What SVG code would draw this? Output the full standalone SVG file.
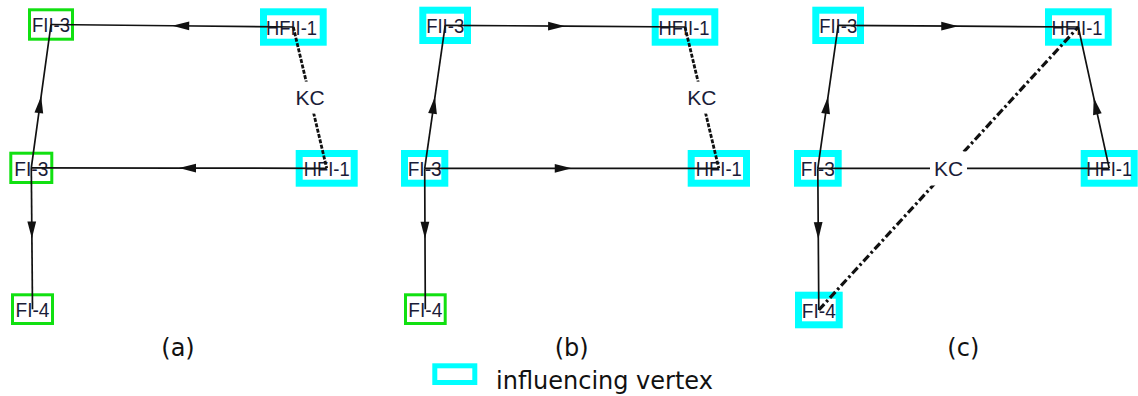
<svg xmlns="http://www.w3.org/2000/svg" width="1138" height="396" viewBox="0 0 1138 396">
  <style>
    .lbl { font-family: "Liberation Sans", Arial, sans-serif; font-size: 21px; fill: #1a1c38; text-anchor: middle; }
    .kc { font-family: "Liberation Sans", Arial, sans-serif; font-size: 21px; fill: #1a1c38; text-anchor: middle; }
    .cap { font-family: "DejaVu Sans", Verdana, sans-serif; font-size: 24px; fill: #111; }
    .inf { fill: #fff; stroke: #00ffff; stroke-width: 7; }
    .plain { fill: #fff; stroke: #11e011; stroke-width: 3; }
    .edge { fill: none; stroke: #111; stroke-width: 1.7; }
    .arrow { marker-mid: url(#arr); }
    .dash { fill: none; stroke: #111; stroke-width: 2.8; stroke-dasharray: 4 1.5; }
    .dashdot { fill: none; stroke: #111; stroke-width: 3.2; stroke-dasharray: 8 3 2.5 3; }
    .kcbg { fill: #fff; }
  </style>
  <defs>
    <marker id="arr" markerUnits="userSpaceOnUse" viewBox="0 0 18 10" markerWidth="18" markerHeight="10" refX="17" refY="5" orient="auto" overflow="visible">
      <path d="M0,0.6 L17,5 L0,9.4 Z" fill="#111"/>
    </marker>
  </defs>

  <rect width="1138" height="396" fill="#fff"/>

  <!-- panel (a) vertices -->
  <g id="a-FII-3"><rect class="plain" x="29.5" y="9.8" width="43" height="29.4"/><text class="lbl" x="51" y="32" textLength="38" lengthAdjust="spacingAndGlyphs">FII-3</text></g>
  <g id="a-HFII-1"><rect class="inf" x="263.5" y="11.8" width="59.7" height="30.4"/><text class="lbl" x="291.5" y="34.5" textLength="51" lengthAdjust="spacingAndGlyphs">HFII-1</text></g>
  <g id="a-FI-3"><rect class="plain" x="10.8" y="153.2" width="41" height="29.3"/><text class="lbl" x="31.3" y="175.6" textLength="34" lengthAdjust="spacingAndGlyphs">FI-3</text></g>
  <g id="a-HFI-1"><rect class="inf" x="299.2" y="153.5" width="55" height="29.7"/><text class="lbl" x="326.7" y="175.9" textLength="46" lengthAdjust="spacingAndGlyphs">HFI-1</text></g>
  <g id="a-FI-4"><rect class="plain" x="12.5" y="294.8" width="40" height="28.7"/><text class="lbl" x="32.5" y="316.6" textLength="34" lengthAdjust="spacingAndGlyphs">FI-4</text></g>

  <!-- panel (b) vertices -->
  <g id="b-FII-3"><rect class="inf" x="422.8" y="10.2" width="44.7" height="30.3"/><text class="lbl" x="445.2" y="32.9" textLength="38" lengthAdjust="spacingAndGlyphs">FII-3</text></g>
  <g id="b-HFII-1"><rect class="inf" x="655.2" y="11.8" width="59.6" height="30.4"/><text class="lbl" x="684" y="34.5" textLength="51" lengthAdjust="spacingAndGlyphs">HFII-1</text></g>
  <g id="b-FI-3"><rect class="inf" x="404.5" y="153.5" width="40.3" height="29.7"/><text class="lbl" x="424.7" y="175.9" textLength="34" lengthAdjust="spacingAndGlyphs">FI-3</text></g>
  <g id="b-HFI-1"><rect class="inf" x="691.2" y="153.5" width="55.3" height="29.7"/><text class="lbl" x="718.8" y="175.9" textLength="46" lengthAdjust="spacingAndGlyphs">HFI-1</text></g>
  <g id="b-FI-4"><rect class="plain" x="405.5" y="294.8" width="39.7" height="28.7"/><text class="lbl" x="425.3" y="316.6" textLength="34" lengthAdjust="spacingAndGlyphs">FI-4</text></g>

  <!-- panel (c) vertices -->
  <g id="c-FII-3"><rect class="inf" x="815.8" y="10.2" width="44.7" height="30.3"/><text class="lbl" x="838.2" y="32.9" textLength="38" lengthAdjust="spacingAndGlyphs">FII-3</text></g>
  <g id="c-HFII-1"><rect class="inf" x="1048.5" y="11.8" width="59.7" height="30.4"/><text class="lbl" x="1077" y="34.5" textLength="51" lengthAdjust="spacingAndGlyphs">HFII-1</text></g>
  <g id="c-FI-3"><rect class="inf" x="797.5" y="153.5" width="40.7" height="29.7"/><text class="lbl" x="817.8" y="175.9" textLength="34" lengthAdjust="spacingAndGlyphs">FI-3</text></g>
  <g id="c-HFI-1"><rect class="inf" x="1084.2" y="153.5" width="50" height="29.7"/><text class="lbl" x="1109.2" y="175.9" textLength="46" lengthAdjust="spacingAndGlyphs">HFI-1</text></g>
  <g id="c-FI-4"><rect class="inf" x="798.5" y="295.2" width="40.7" height="29.6"/><text class="lbl" x="818.8" y="317.6" textLength="34" lengthAdjust="spacingAndGlyphs">FI-4</text></g>

  <!-- connectors: arrowheads sit at each edge's midpoint -->
  <g id="connectors">
    <!-- (a) -->
    <path class="edge arrow" d="M293.3,27 L172.2,25.75 L51,24.5"/>
    <path class="edge arrow" d="M326.7,168.3 L179,168.05 L31.3,167.8"/>
    <path class="edge arrow" d="M31.3,167.8 L41.15,96.15 L51,24.5"/>
    <path class="edge arrow" d="M31.3,167.8 L31.9,238.5 L32.5,309.2"/>
    <path class="dash" d="M293.3,27 L326.7,168.3"/>
    <rect class="kcbg" x="291.5" y="81.6" width="37" height="32"/>
    <text class="kc" x="310" y="105.3">KC</text>

    <!-- (b) -->
    <path class="edge arrow" d="M445.2,25.3 L565.1,26.15 L685,27"/>
    <path class="edge arrow" d="M424.7,168.3 L571.75,168.3 L718.8,168.3"/>
    <path class="edge arrow" d="M424.7,168.3 L434.95,96.8 L445.2,25.3"/>
    <path class="edge arrow" d="M424.7,168.3 L425,238.75 L425.3,309.2"/>
    <path class="dash" d="M685,27 L718.8,168.3"/>
    <rect class="kcbg" x="683.4" y="81.6" width="37" height="32"/>
    <text class="kc" x="701.9" y="105.3">KC</text>

    <!-- (c) -->
    <path class="edge arrow" d="M838.2,25.3 L958.25,26.15 L1078.3,27"/>
    <path class="edge arrow" d="M817.8,168.3 L828,96.8 L838.2,25.3"/>
    <path class="edge arrow" d="M1109.2,168.3 L1093.75,97.65 L1078.3,27"/>
    <path class="edge" d="M817.8,168.3 L1109.2,168.3"/>
    <path class="edge arrow" d="M817.8,168.3 L818.3,239.15 L818.8,310"/>
    <path class="dashdot" d="M818.8,310 L1078.3,27"/>
    <rect class="kcbg" x="930" y="151.5" width="37" height="34"/>
    <text class="kc" x="948.5" y="175.8">KC</text>
  </g>

  <!-- captions -->
  <text class="cap" x="178" y="356" text-anchor="middle">(a)</text>
  <text class="cap" x="571.7" y="356" text-anchor="middle">(b)</text>
  <text class="cap" x="963.3" y="356" text-anchor="middle">(c)</text>

  <!-- legend -->
  <g id="legend">
    <rect x="434.8" y="365.8" width="40" height="16.7" fill="#fff" stroke="#00ffff" stroke-width="5"/>
    <text class="cap" x="496" y="389.3">influencing vertex</text>
  </g>
</svg>
